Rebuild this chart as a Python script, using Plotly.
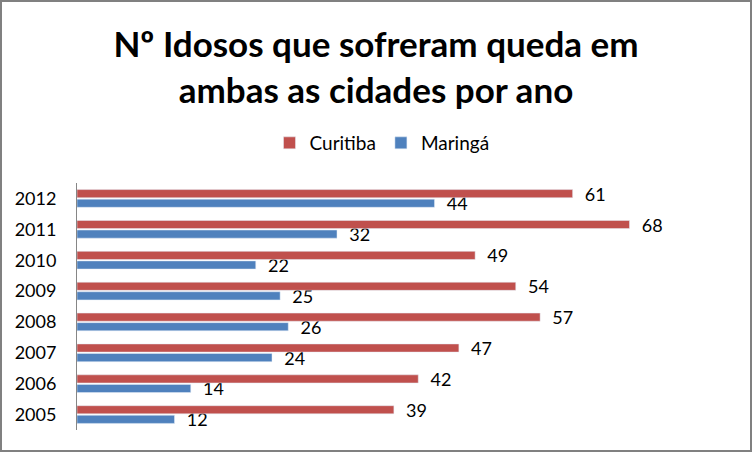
import plotly.graph_objects as go

years = ["2005", "2006", "2007", "2008", "2009", "2010", "2011", "2012"]
curitiba = [39, 42, 47, 57, 54, 49, 68, 61]
maringa = [12, 14, 24, 26, 25, 22, 32, 44]

W, H = 752, 452
ML, MR, MT, MB = 77, 25, 183, 22
FONT = "Lato, Calibri, sans-serif"

fig = go.Figure()
fig.add_trace(go.Bar(
    y=years, x=maringa, name="Maringá", orientation="h",
    marker=dict(color="#4F81BD"),
    text=maringa, texttemplate="  %{x}", textposition="outside",
    constraintext="none",
    textfont=dict(size=18, color="#000000", family=FONT),
    cliponaxis=False,
))
fig.add_trace(go.Bar(
    y=years, x=curitiba, name="Curitiba", orientation="h",
    marker=dict(color="#C0504D"),
    text=curitiba, texttemplate="  %{x}", textposition="outside",
    constraintext="none",
    textfont=dict(size=18, color="#000000", family=FONT),
    cliponaxis=False,
))

pw = W - ML - MR
ph = H - MT - MB
fig.update_layout(
    width=W, height=H,
    margin=dict(l=ML, r=MR, t=MT, b=MB, autoexpand=False),
    paper_bgcolor="white", plot_bgcolor="white",
    barmode="group", bargap=0.38, bargroupgap=0.15,
    title=dict(
        text="<b>Nº Idosos que sofreram queda em<br>ambas as cidades por ano</b>",
        x=0.5, xanchor="center", yref="container", y=1 - 57 / H, yanchor="middle",
        font=dict(size=35, color="#000000", family=FONT),
    ),
    showlegend=True,
    legend=dict(
        orientation="h", traceorder="reversed",
        x=0.5 - 20 / pw, xanchor="center", y=1.0 + (MT - 143) / ph, yanchor="middle",
        font=dict(size=19, color="#000000", family=FONT),
        itemwidth=30,
    ),
    xaxis=dict(range=[0, 80], showgrid=False, showticklabels=False,
               zeroline=False, showline=False, ticks="", automargin=False),
    yaxis=dict(type="category", showgrid=False, showline=True,
               linecolor="#868686", linewidth=1, ticks="", automargin=False,
               tickfont=dict(size=18, color="#000000", family=FONT),
               ticklabelstandoff=16),
    shapes=[dict(
        type="rect", xref="paper", yref="paper",
        x0=-(ML - 1) / pw, x1=1 + (MR - 1) / pw,
        y0=-(MB - 1) / ph, y1=1 + (MT - 1) / ph,
        line=dict(color="#808080", width=2), fillcolor="rgba(0,0,0,0)",
    )],
)

fig.write_html("out.html", config={"displayModeBar": False},
               post_script="document.body.style.margin='0';")
